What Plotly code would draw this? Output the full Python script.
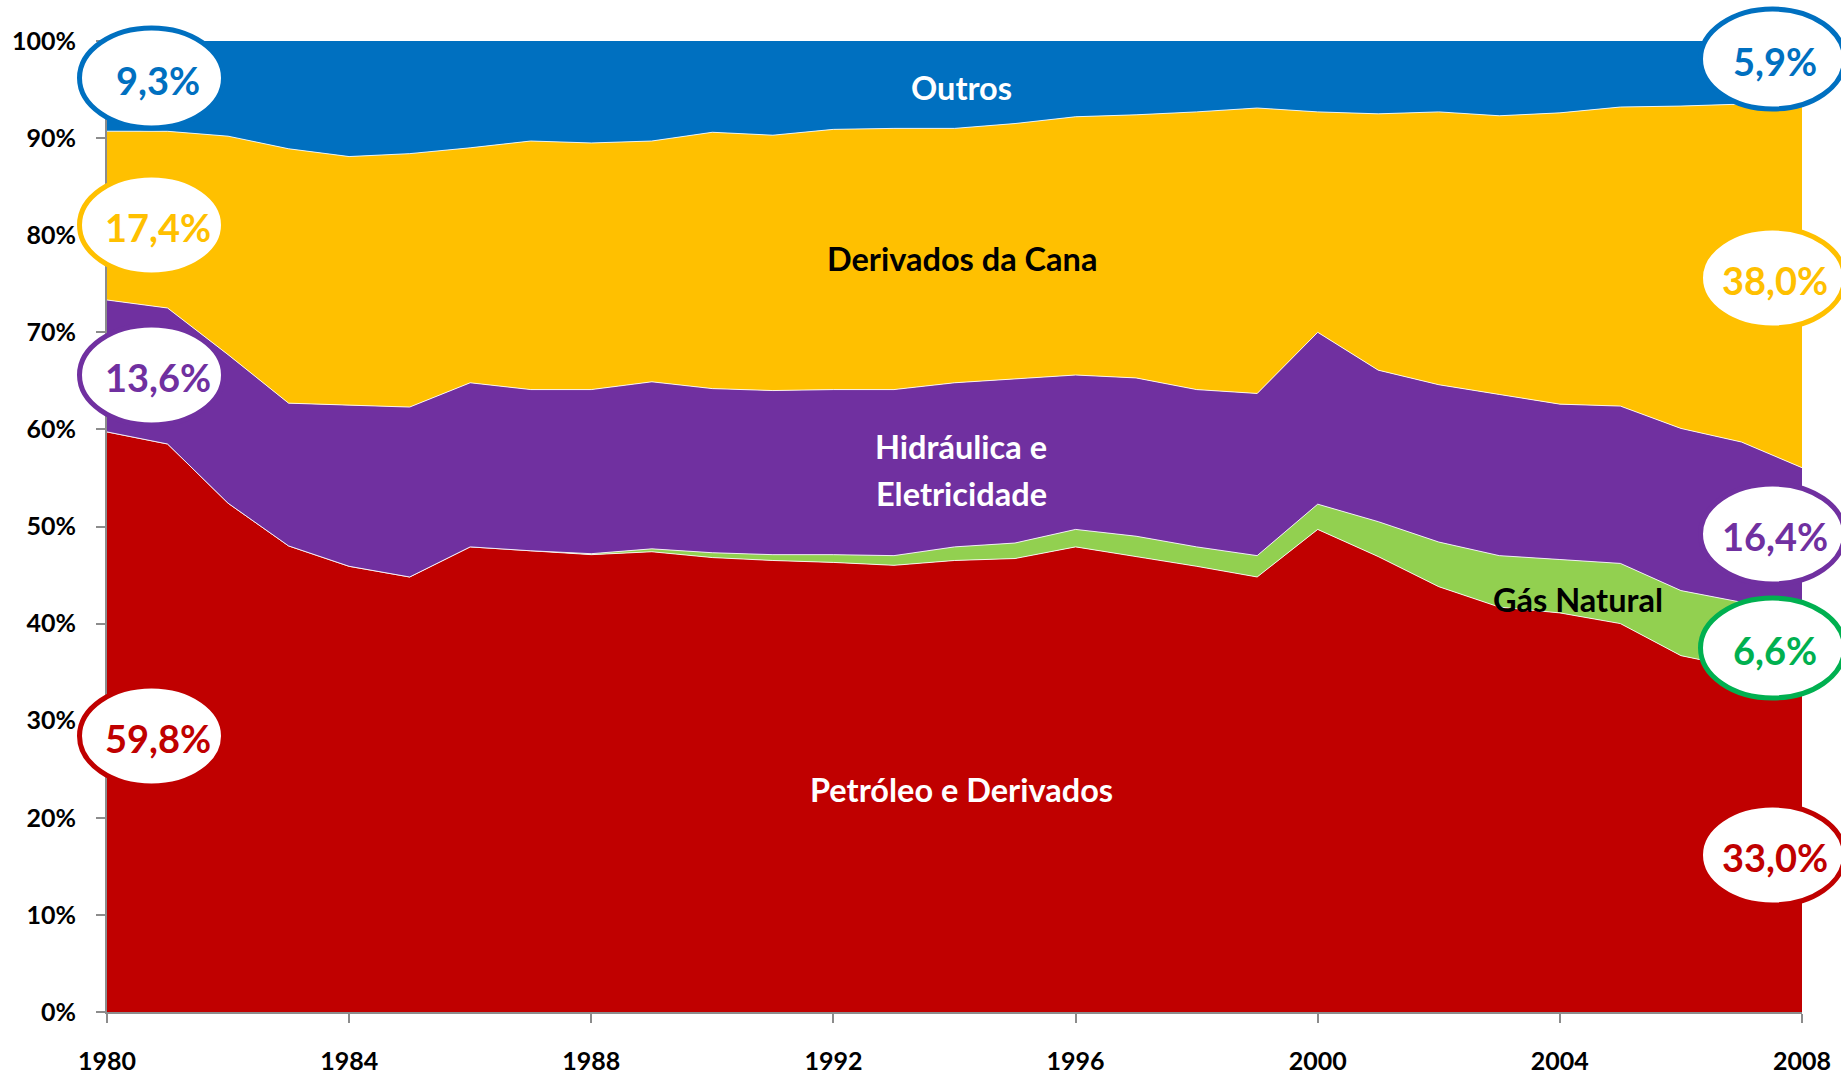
import plotly.graph_objects as go

# ---------------- data (shares of the total, %) ----------------
years = list(range(1980, 2009))
petroleo = [59.8, 58.5, 52.4, 48.0, 45.9, 44.8, 47.9, 47.5, 47.1, 47.4, 46.8, 46.5, 46.3, 46.0, 46.5,
            46.7, 47.9, 46.9, 45.9, 44.8, 49.7, 46.9, 43.8, 41.7, 41.1, 40.0, 36.7, 35.4, 33.0]
gas_natural = [0.0, 0.0, 0.0, 0.0, 0.0, 0.0, 0.0, 0.0, 0.1, 0.3, 0.5, 0.6, 0.8, 1.0, 1.4,
               1.6, 1.8, 2.1, 2.0, 2.2, 2.6, 3.6, 4.6, 5.3, 5.5, 6.2, 6.7, 6.8, 6.6]
hidraulica = [13.6, 14.0, 15.3, 14.7, 16.6, 17.5, 16.9, 16.6, 16.9, 17.2, 16.9, 16.9, 17.0, 17.1, 16.9,
              16.9, 15.9, 16.3, 16.2, 16.7, 17.7, 15.6, 16.2, 16.6, 16.0, 16.2, 16.7, 16.5, 16.4]
cana = [17.4, 18.2, 22.5, 26.2, 25.6, 26.1, 24.2, 25.6, 25.4, 24.8, 26.4, 26.3, 26.8, 26.9, 26.2,
        26.3, 26.6, 27.1, 28.6, 29.4, 22.7, 26.4, 28.1, 28.7, 30.0, 30.8, 33.2, 34.8, 38.0]
outros = [9.3, 9.3, 9.8, 11.1, 11.9, 11.6, 11.0, 10.3, 10.5, 10.3, 9.4, 9.7, 9.1, 9.0, 9.0,
          8.5, 7.8, 7.6, 7.3, 6.9, 7.3, 7.5, 7.3, 7.7, 7.4, 6.8, 6.7, 6.5, 5.9]

x_ticks = list(range(1980, 2009, 4))
y_ticks = list(range(0, 101, 10))
y_tick_text = [f"{v}%" for v in y_ticks]

series_names = ["Petróleo e Derivados", "Gás Natural", "Hidráulica e Eletricidade",
                "Derivados da Cana", "Outros"]
series_values = [petroleo, gas_natural, hidraulica, cana, outros]
fill_colors = ["#C00000", "#92D050", "#7030A0", "#FFC000", "#0070C0"]
text_colors = ["#C00000", "#00B050", "#7030A0", "#FFC000", "#0070C0"]

FONT = "Lato"

# ---------------- figure geometry (pixels) ----------------
W, H = 1841, 1074
L, R, T, B = 107, 39, 41, 62
PW, PH = W - L - R, H - T - B


def px(xp):
    return (xp - L) / PW


def py(yp):
    return (H - B - yp) / PH


def fmt(v):
    return f"{v:.1f}%".replace(".", ",")


fig = go.Figure()
for name, vals, col in zip(series_names, series_values, fill_colors):
    fig.add_trace(go.Scatter(
        x=years, y=vals, name=name, mode="lines", stackgroup="one", groupnorm="percent",
        line=dict(width=1 if name != "Outros" else 0, color="rgba(255,255,255,0.85)"),
        fillcolor=col, hoverinfo="x+y+name",
    ))

shapes = []
annotations = []

# ellipses with start / end values
left_y = {"Outros": 78, "Derivados da Cana": 225, "Hidráulica e Eletricidade": 375,
          "Petróleo e Derivados": 736}
right_y = {"Outros": 59, "Derivados da Cana": 278, "Hidráulica e Eletricidade": 534,
           "Gás Natural": 648, "Petróleo e Derivados": 855}
EW, EH = 144, 100
for centers, cx, tdx, idx in ((left_y, 151.5, 6, 0), (right_y, 1772.5, 2, -1)):
    for name, vals, col in zip(series_names, series_values, text_colors):
        if name not in centers:
            continue
        cy = centers[name]
        shapes.append(dict(type="circle", xref="paper", yref="paper",
                           x0=px(cx - EW / 2), x1=px(cx + EW / 2),
                           y0=py(cy + EH / 2), y1=py(cy - EH / 2),
                           fillcolor="white", line=dict(color=col, width=5), layer="above"))
        annotations.append(dict(xref="paper", yref="paper", x=px(cx + tdx), y=py(cy + 2),
                                text=fmt(vals[idx]), showarrow=False,
                                font=dict(family=FONT, size=38, color=col, weight="bold"),
                                xanchor="center", yanchor="middle"))

# series labels inside the areas
inner = [
    ("Outros", 961, 87, "white"),
    ("Derivados da Cana", 962, 258, "black"),
    ("Hidráulica e", 961, 446, "white"),
    ("Eletricidade", 961, 493, "white"),
    ("Gás Natural", 1578, 599, "black"),
    ("Petróleo e Derivados", 961, 789, "white"),
]
for txt, xx, yy, col in inner:
    annotations.append(dict(xref="paper", yref="paper", x=px(xx), y=py(yy), text=txt,
                            showarrow=False, xanchor="center", yanchor="middle",
                            font=dict(family=FONT, size=32.5, color=col, weight="bold")))

axis_col = "#8C8C8C"
fig.update_layout(
    width=W, height=H,
    margin=dict(l=L, r=R, t=T, b=B, pad=0, autoexpand=False),
    paper_bgcolor="white", plot_bgcolor="white",
    showlegend=False,
    shapes=shapes, annotations=annotations,
    font=dict(family=FONT, color="black"),
    xaxis=dict(range=[1980, 2008], tickmode="array", tickvals=x_ticks,
               ticktext=[str(v) for v in x_ticks], automargin=False,
               showgrid=False, zeroline=False, showline=True, linecolor=axis_col, linewidth=2,
               ticks="outside", ticklen=9, tickcolor=axis_col, tickwidth=2,
               ticklabelstandoff=17,
               tickfont=dict(family=FONT, size=25, color="black", weight="bold")),
    yaxis=dict(range=[0, 100], tickmode="array", tickvals=y_ticks, ticktext=y_tick_text,
               automargin=False,
               showgrid=True, gridcolor="#A6A6A6", gridwidth=1, zeroline=False,
               showline=True, linecolor=axis_col, linewidth=2,
               ticks="outside", ticklen=9, tickcolor=axis_col, tickwidth=2,
               ticklabelstandoff=15,
               tickfont=dict(family=FONT, size=25, color="black", weight="bold")),
)

fig.write_html("out.html", config={"displayModeBar": False},
               post_script="document.body.style.margin='0';document.body.style.overflow='hidden';")
